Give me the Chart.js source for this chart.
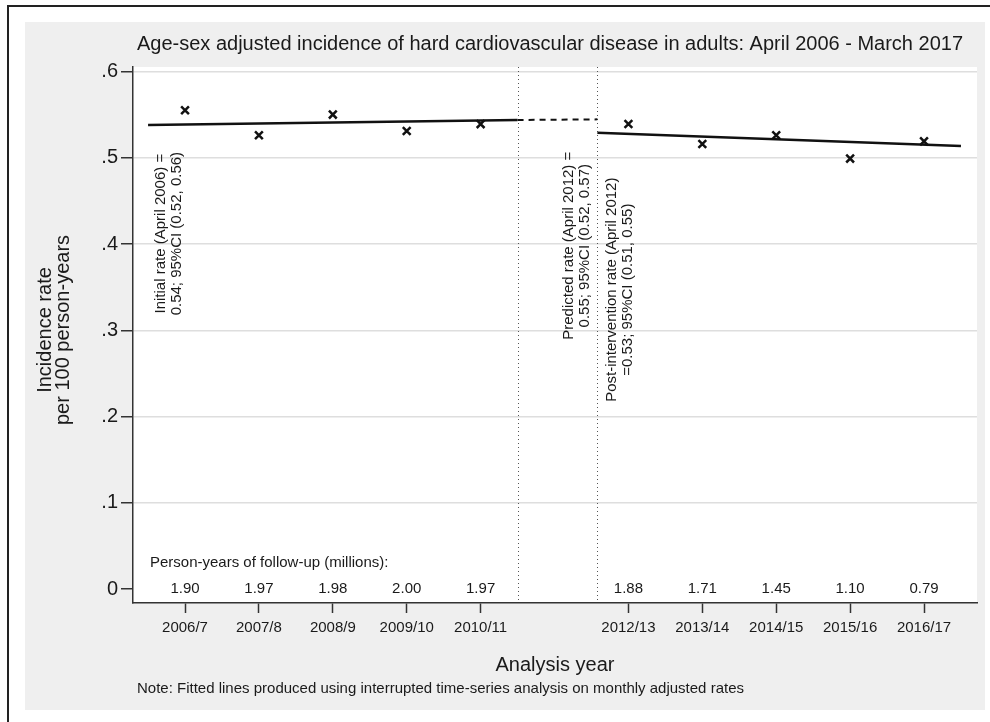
<!DOCTYPE html>
<html>
<head>
<meta charset="utf-8">
<script src="https://cdn.jsdelivr.net/npm/chart.js@4.4.1/dist/chart.umd.min.js"></script>
<style>
  html, body { margin: 0; padding: 0; background: #fff; width: 990px; height: 722px; overflow: hidden; }
  #frame { position: absolute; left: 7px; top: 5px; width: 1000px; height: 800px;
           border-top: 2px solid #222; border-left: 2px solid #222; }
  #panel { position: absolute; left: 25px; top: 22px; width: 960px; height: 688px; background: #efefef; }
</style>
</head>
<body>
<div id="frame"></div>
<div id="panel"><canvas id="chart"></canvas></div>
<script>
// analysis years (April - March), 2011/12 left out as implementation period
var yearLabels = ['2006/7', '2007/8', '2008/9', '2009/10', '2010/11', '2012/13', '2013/14', '2014/15', '2015/16', '2016/17'];
var yearStart = [2006, 2007, 2008, 2009, 2010, 2012, 2013, 2014, 2015, 2016];
var incidence = [0.555, 0.526, 0.550, 0.531, 0.539, 0.539, 0.516, 0.526, 0.499, 0.519];
var personYears = ['1.90', '1.97', '1.98', '2.00', '1.97', '1.88', '1.71', '1.45', '1.10', '0.79'];

// fitted lines, x in calendar years
var preFit = [[2006.25, 0.538], [2011.25, 0.5438]];
var predicted = [[2011.25, 0.5438], [2012.33, 0.5445]];
var postFit = [[2012.33, 0.529], [2017.25, 0.5136]];
var interruptions = [2011.25, 2012.33];

var yTicks = [0, 0.1, 0.2, 0.3, 0.4, 0.5, 0.6];

var FONT = "'Liberation Sans', Arial, sans-serif";
var INK = '#1a1a1a';

function mid(y) { return y + 0.75; }
function pts(arr) { return arr.map(function (p) { return { x: p[0], y: p[1] }; }); }

var notes = [
  { x: 2006.53, y: 0.412, lines: ['Initial rate (April 2006) =', '0.54; 95%CI (0.52, 0.56)'] },
  { x: 2012.05, y: 0.398, lines: ['Predicted rate (April 2012) =', '0.55; 95%CI (0.52, 0.57)'] },
  { x: 2012.64, y: 0.347, lines: ['Post-intervention rate (April 2012)', '=0.53; 95%CI (0.51, 0.55)'] }
];

var extras = {
  id: 'extras',
  beforeDatasetsDraw: function (chart) {
    var ctx = chart.ctx, a = chart.chartArea, xs = chart.scales.x;
    ctx.save();
    ctx.strokeStyle = '#555';
    ctx.lineWidth = 1;
    ctx.setLineDash([1, 3]);
    interruptions.forEach(function (v) {
      var px = Math.round(xs.getPixelForValue(v)) + 0.5;
      ctx.beginPath();
      ctx.moveTo(px, a.top);
      ctx.lineTo(px, a.bottom);
      ctx.stroke();
    });
    ctx.restore();
  },
  afterDraw: function (chart) {
    var ctx = chart.ctx, a = chart.chartArea, xs = chart.scales.x, ys = chart.scales.y;
    ctx.save();
    ctx.fillStyle = INK;

    // title
    ctx.font = '20px ' + FONT;
    ctx.textAlign = 'left';
    ctx.textBaseline = 'middle';
    ctx.fillText('Age-sex adjusted incidence of hard cardiovascular disease in adults: April 2006 - March 2017', a.left + 4, a.top - 23);

    // person-years row
    ctx.font = '15px ' + FONT;
    ctx.fillText('Person-years of follow-up (millions):', a.left + 17, ys.getPixelForValue(0.03));
    ctx.textAlign = 'center';
    yearStart.forEach(function (y, i) {
      ctx.fillText(personYears[i], xs.getPixelForValue(mid(y)), ys.getPixelForValue(0));
    });

    // rotated annotations
    notes.forEach(function (n) {
      ctx.save();
      ctx.translate(xs.getPixelForValue(n.x), ys.getPixelForValue(n.y));
      ctx.rotate(-Math.PI / 2);
      ctx.font = '15px ' + FONT;
      ctx.textAlign = 'center';
      ctx.fillText(n.lines[0], 0, -8);
      ctx.fillText(n.lines[1], 0, 8);
      ctx.restore();
    });

    // y axis title
    ctx.save();
    ctx.translate(29, 308);
    ctx.rotate(-Math.PI / 2);
    ctx.font = '20px ' + FONT;
    ctx.textAlign = 'center';
    ctx.fillText('Incidence rate', 0, -9);
    ctx.fillText('per 100 person-years', 0, 9);
    ctx.restore();

    // x axis title and note
    ctx.font = '20px ' + FONT;
    ctx.textAlign = 'center';
    ctx.fillText('Analysis year', (a.left + a.right) / 2, 643);
    ctx.font = '15px ' + FONT;
    ctx.textAlign = 'left';
    ctx.fillText('Note: Fitted lines produced using interrupted time-series analysis on monthly adjusted rates', a.left + 4, 667);
    ctx.restore();
  }
};

// white plot region
var plotBg = {
  id: 'plotBg',
  beforeDraw: function (chart) {
    var a = chart.chartArea;
    chart.ctx.save();
    chart.ctx.fillStyle = '#fff';
    chart.ctx.fillRect(a.left, a.top, a.right - a.left, a.bottom - a.top);
    chart.ctx.restore();
  }
};

Chart.defaults.font.family = FONT;
Chart.defaults.color = INK;

new Chart(document.getElementById('chart'), {
  type: 'scatter',
  data: {
    datasets: [
      {
        label: 'Observed',
        data: yearStart.map(function (y, i) { return { x: mid(y), y: incidence[i] }; }),
        pointStyle: 'crossRot',
        pointRadius: 5.5,
        pointBorderWidth: 2.5,
        borderColor: '#111',
        backgroundColor: '#111'
      },
      {
        label: 'Pre',
        data: pts(preFit),
        showLine: true,
        borderColor: '#111',
        borderWidth: 2.5,
        pointRadius: 0
      },
      {
        label: 'Predicted',
        data: pts(predicted),
        showLine: true,
        borderColor: '#111',
        borderWidth: 2,
        borderDash: [6, 5],
        pointRadius: 0
      },
      {
        label: 'Post',
        data: pts(postFit),
        showLine: true,
        borderColor: '#111',
        borderWidth: 2.5,
        pointRadius: 0
      }
    ]
  },
  options: {
    responsive: true,
    maintainAspectRatio: false,
    animation: false,
    layout: { padding: { top: 45, right: 8, left: 0, bottom: 0 } },
    plugins: { legend: { display: false }, tooltip: { enabled: false } },
    scales: {
      x: {
        type: 'linear',
        min: 2006.046,
        max: 2017.467,
        afterBuildTicks: function (scale) {
          scale.ticks = yearStart.map(function (y) { return { value: mid(y) }; });
        },
        afterFit: function (scale) { scale.height = 107; },
        ticks: {
          font: { size: 15 },
          color: INK,
          padding: 6,
          maxRotation: 0,
          autoSkip: false,
          callback: function (v) {
            var i = yearStart.indexOf(Math.round(v - 0.75));
            return i < 0 ? '' : yearLabels[i];
          }
        },
        grid: { drawOnChartArea: false, drawTicks: true, tickLength: 10, tickColor: '#333', tickWidth: 1.5 },
        border: { color: '#333', width: 1.5 }
      },
      y: {
        min: -0.0162,
        max: 0.6052,
        afterBuildTicks: function (scale) {
          scale.ticks = yTicks.map(function (v) { return { value: v }; });
        },
        afterFit: function (scale) { scale.width = 108; },
        ticks: {
          font: { size: 20 },
          color: INK,
          padding: 3,
          callback: function (v) { return v === 0 ? '0' : v.toFixed(1).replace(/^0/, ''); }
        },
        grid: {
          color: function (c) { return c.tick && c.tick.value === 0 ? 'rgba(0,0,0,0)' : '#dedede'; },
          lineWidth: 1.5,
          tickLength: 12,
          tickColor: '#333',
          tickWidth: 1.5
        },
        border: { color: '#333', width: 1.5 }
      }
    }
  },
  plugins: [plotBg, extras]
});
</script>
</body>
</html>
